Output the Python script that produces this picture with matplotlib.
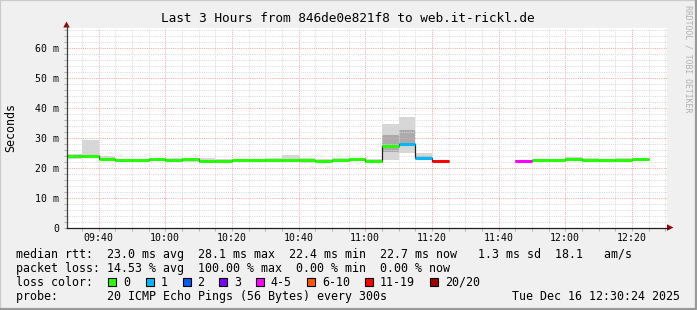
import matplotlib
matplotlib.use("Agg")
import matplotlib.pyplot as plt
from matplotlib.patches import Rectangle, Polygon
from matplotlib.lines import Line2D

W, H = 697, 310

# ---------------- data ----------------
bin_start = ["09:30", "09:35", "09:40", "09:45", "09:50", "09:55", "10:00", "10:05",
             "10:10", "10:15", "10:20", "10:25", "10:30", "10:35", "10:40", "10:45",
             "10:50", "10:55", "11:00", "11:05", "11:10", "11:15", "11:20", "11:25",
             "11:30", "11:35", "11:40", "11:45", "11:50", "11:55", "12:00", "12:05",
             "12:10", "12:15", "12:20"]
median_ms = [23.7, 23.7, 23.0, 22.4, 22.4, 22.7, 22.6, 22.8, 22.2, 22.2, 22.6, 22.6,
             22.6, 22.5, 22.4, 22.2, 22.6, 22.7, 22.3, 27.3, 28.0, 23.3, 22.3, None,
             None, None, None, 22.3, 22.6, 22.6, 22.7, 22.4, 22.4, 22.4, 22.7]
smoke_lo = [23.0, 23.2, 22.5, 22.0, 22.0, 22.3, 22.2, 21.9, 21.8, 21.9, 22.2, 22.1,
            22.2, 22.1, 21.6, 21.9, 22.3, 22.2, 21.9, 22.5, 24.8, 22.8, 22.0, None,
            None, None, None, 22.0, 22.2, 22.2, 22.3, 22.0, 21.7, 22.1, 22.3]
smoke_q1 = [23.4, 23.5, 22.8, 22.2, 22.2, 22.5, 22.4, 22.4, 22.0, 22.0, 22.4, 22.4,
            22.4, 22.3, 22.0, 22.0, 22.4, 22.5, 22.1, 25.3, 27.5, 23.1, 22.1, None,
            None, None, None, 22.1, 22.4, 22.4, 22.5, 22.2, 22.0, 22.2, 22.5]
smoke_q3 = [24.0, 24.0, 23.3, 22.6, 22.6, 22.9, 22.9, 23.0, 22.6, 22.5, 22.8, 22.8,
            22.8, 22.9, 22.7, 22.5, 22.9, 22.9, 22.5, 30.9, 32.6, 23.8, 22.5, None,
            None, None, None, 22.5, 22.8, 22.8, 23.0, 22.7, 22.6, 22.7, 22.9]
smoke_hi = [24.6, 29.3, 23.8, 23.0, 23.0, 23.2, 23.3, 23.3, 23.3, 23.0, 23.0, 23.0,
            23.1, 24.2, 23.2, 22.8, 23.2, 23.2, 22.8, 34.5, 36.7, 24.8, 22.6, None,
            None, None, None, 22.6, 23.0, 23.0, 23.4, 23.2, 22.8, 23.2, 23.0]
loss_class = [0, 0, 0, 0, 0, 0, 0, 0, 0, 0, 0, 0, 0, 0, 0, 0, 0, 0, 0, 0, 1, 1, 6,
              7, 7, 7, 7, 4, 0, 0, 0, 0, 0, 0, 0]

loss_labels = ["0", "1", "2", "3", "4-5", "6-10", "11-19", "20/20"]
loss_colors = ["#26ff00", "#00b8ff", "#0059ff", "#7e00ff", "#ff00ff", "#ff5500",
               "#ff0000", "#a10000"]

x_tick_labels = ["09:40", "10:00", "10:20", "10:40", "11:00", "11:20", "11:40",
                 "12:00", "12:20"]
y_tick_values = [0, 10, 20, 30, 40, 50, 60]
y_tick_labels = ["0", "10 m", "20 m", "30 m", "40 m", "50 m", "60 m"]

title = "Last 3 Hours from 846de0e821f8 to web.it-rickl.de"
legend_rows = [
    "median rtt:  23.0 ms avg  28.1 ms max  22.4 ms min  22.7 ms now   1.3 ms sd  18.1   am/s",
    "packet loss: 14.53 % avg  100.00 % max  0.00 % min  0.00 % now",
    "loss color:",
    "probe:       20 ICMP Echo Pings (56 Bytes) every 300s",
]
date_text = "Tue Dec 16 12:30:24 2025"
watermark = "RRDTOOL / TOBI OETIKER"

STEP = 5  # minutes per bin


def tmin(s):
    h, m = map(int, s.split(":"))
    return (h - 9) * 60 + m


x_start = 30.4   # 09:30:24
x_end = 210.4    # 12:30:24

# ---------------- figure ----------------
MONO = "DejaVu Sans Mono"
fig = plt.figure(figsize=(W / 100, H / 100), dpi=100, facecolor="#f0f0f0")


def fx(x):
    return x / W


def fy(y):
    return 1 - y / H


PL, PT, PR, PB = 66.5, 27.5, 666.5, 227.5
ax = fig.add_axes([fx(PL), fy(PB), (PR - PL) / W, (PB - PT) / H])
ax.set_facecolor("white")
ax.set_xlim(x_start, x_end)
ax.set_ylim(0, (PB - PT) / 3.0)

# smoke
for i, s in enumerate(bin_start):
    if smoke_lo[i] is None:
        continue
    x0 = tmin(s)
    ax.add_patch(Rectangle((x0, smoke_lo[i]), STEP, smoke_hi[i] - smoke_lo[i],
                           facecolor="#d6d6d6", edgecolor="none", zorder=1))
    ax.add_patch(Rectangle((x0, smoke_q1[i]), STEP, smoke_q3[i] - smoke_q1[i],
                           facecolor="#ababab", edgecolor="none", zorder=1.1))

# grid
minor_x = [m for m in range(35, 211, 5)]
major_x = [tmin(t) for t in x_tick_labels]
ax.set_xticks(major_x)
ax.set_xticklabels(x_tick_labels)
ax.set_xticks(minor_x, minor=True)
ax.set_yticks(y_tick_values)
ax.set_yticklabels(y_tick_labels)
ax.set_yticks(list(range(0, 67, 2)), minor=True)
ax.grid(which="minor", color="#dadada", linestyle=(0, (1, 1.2)), linewidth=0.72)
ax.grid(which="major", color="#f4a6a6", linestyle=(0, (1, 1.2)), linewidth=0.72)
ax.set_axisbelow(False)
for t in ax.xaxis.get_minor_ticks() + ax.yaxis.get_minor_ticks():
    t.gridline.set_zorder(1.5)
for t in ax.xaxis.get_major_ticks() + ax.yaxis.get_major_ticks():
    t.gridline.set_zorder(1.6)

# median: black step line per contiguous run, then colored segments
runs = []
cur = []
for i, v in enumerate(median_ms):
    if v is None:
        if cur:
            runs.append(cur)
        cur = []
    else:
        cur.append(i)
if cur:
    runs.append(cur)
for r in runs:
    edges = [tmin(bin_start[r[0]]) + k * STEP for k in range(len(r) + 1)]
    vals = [median_ms[i] for i in r]
    ax.stairs(vals, edges, baseline=None, color="#202020", linewidth=0.9, zorder=3)
for i, v in enumerate(median_ms):
    if v is None:
        continue
    x0 = tmin(bin_start[i])
    ax.hlines(v, x0, x0 + STEP, colors=loss_colors[loss_class[i]], linewidth=2.2,
              zorder=4, capstyle="butt")

for sp in ax.spines.values():
    sp.set_visible(False)

ax.tick_params(axis="both", which="both", length=2, width=0.72, color="#b0b0b0")
ax.tick_params(axis="y", which="major", pad=3.1, labelsize=7.1)
ax.tick_params(axis="x", which="major", pad=2.2, labelsize=7.1)
for lab in ax.get_xticklabels() + ax.get_yticklabels():
    lab.set_fontfamily(MONO)

# axis lines with arrows
fig.add_artist(Line2D([fx(PL), fx(PL)], [fy(PB), fy(25)], color="#404040", linewidth=0.9))
fig.add_artist(Line2D([fx(PL), fx(669)], [fy(PB), fy(PB)], color="#202020", linewidth=0.9))
fig.add_artist(Polygon([(fx(PL - 3.2), fy(27.5)), (fx(PL + 3.2), fy(27.5)), (fx(PL), fy(21.5))],
                       closed=True, facecolor="#a00000", edgecolor="none"))
fig.add_artist(Polygon([(fx(667), fy(PB - 3.2)), (fx(667), fy(PB + 3.2)), (fx(673.5), fy(PB))],
                       closed=True, facecolor="#a00000", edgecolor="none"))

# title and labels
fig.text(fx(348), fy(19), title, ha="center", va="center", fontsize=9.2, family=MONO)
fig.text(fx(11), fy(127), "Seconds", ha="center", va="center", rotation=90,
         fontsize=8.4, family=MONO)
fig.text(fx(688), fy(59), watermark, ha="center", va="center", rotation=-90,
         fontsize=5.9, family=MONO, color="#b0b0b0")

# legend
row_y = [254.3, 268.3, 282.3, 296.2]
for txt, yy in zip(legend_rows, row_y):
    fig.text(fx(16), fy(yy), txt, ha="left", va="center", fontsize=8.4, family=MONO)
fig.text(fx(680.5), fy(row_y[3]), date_text, ha="right", va="center", fontsize=8.4,
         family=MONO)

sq_x = [108.3, 145.7, 182.7, 219.3, 256.0, 307.3, 365.3, 430.3]
for xs, lab, col in zip(sq_x, loss_labels, loss_colors):
    fig.add_artist(Rectangle((fx(xs), fy(row_y[2] + 4)), 8 / W, 8 / H,
                             transform=fig.transFigure, facecolor=col,
                             edgecolor="black", linewidth=0.8))
    fig.text(fx(xs + 14.5), fy(row_y[2]), lab, ha="left", va="center", fontsize=8.4,
             family=MONO)

# 3D border
fig.add_artist(Line2D([0, 0, 1], [0, 1, 1], transform=fig.transFigure,
                      color="#cbcbcb", linewidth=1.6))
fig.add_artist(Line2D([fx(0.5), fx(W - 1), fx(W - 1)], [fy(H - 1), fy(H - 1), 1],
                      transform=fig.transFigure, color="#999999", linewidth=1.6))

fig.savefig("out.png", dpi=100, facecolor=fig.get_facecolor())
